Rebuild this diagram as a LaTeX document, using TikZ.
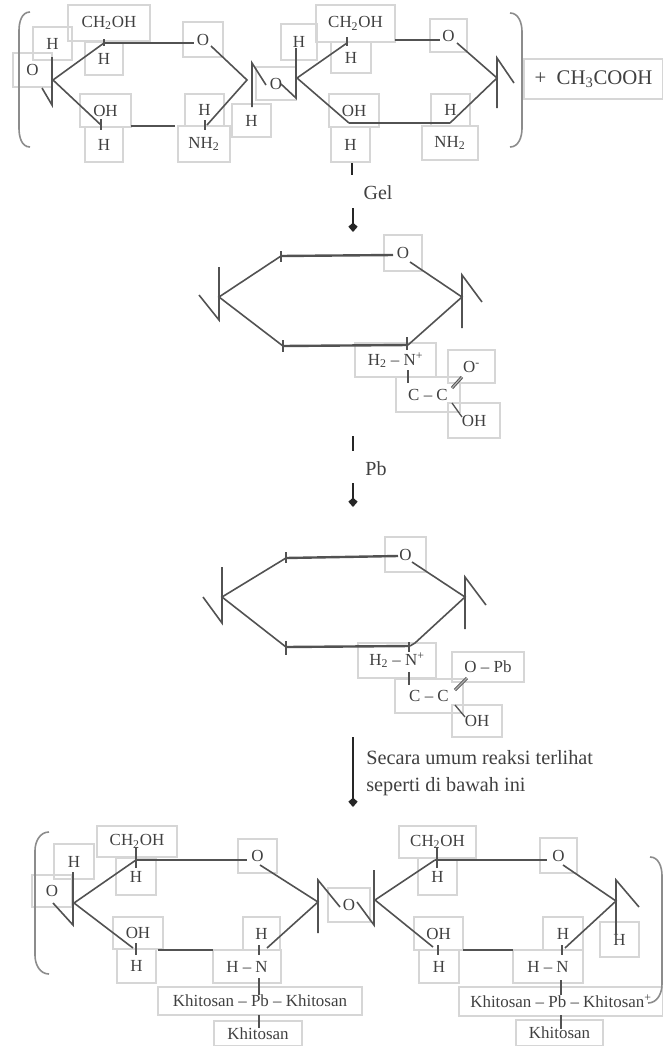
\documentclass[tikz,border=0pt]{standalone}
\usepackage{fontspec}
\setmainfont{Liberation Serif}
\usetikzlibrary{arrows.meta}
\definecolor{boxc}{gray}{0.84}
\definecolor{inkc}{gray}{0.32}
\definecolor{txtc}{gray}{0.25}
\tikzset{
  x=0.75pt,y=-0.75pt,
  boxn/.style={draw=boxc,line width=0.8pt,inner sep=0pt,text=txtc,font=\fontsize{12.7}{14}\selectfont,align=center},
  free/.style={inner sep=0pt,text=txtc,font=\fontsize{15}{20}\selectfont,align=left},
  bond/.style={draw=inkc,line width=1.2pt},
  heavy/.style={draw=inkc,line width=1.8pt},
  stub/.style={draw=inkc,line width=1pt},
  dbl/.style={draw=inkc,double=gray!60,double distance=0.9pt,line width=0.7pt},
  flow/.style={draw=black!85,line width=1.1pt},
  flowtip/.style={flow,-{Kite[length=7pt,width=7pt,inset=3pt]}},
  brk/.style={draw=gray!90,line width=1.2pt}
}
\newcommand{\bx}[6]{\node[boxn,minimum width={(#4-#2)*0.75pt},minimum height={(#5-#3)*0.75pt}] (#1) at ({(#2+#4)/2},{(#3+#5)/2}) {#6};}
\newcommand{\pts}[1]{\foreach \n/\a/\b in {#1}{\coordinate (\n) at (\a,\b);}}
\newcommand{\sm}[1]{\textsubscript{#1}}
\newcommand{\su}[1]{\textsuperscript{#1}}
\begin{document}
\begin{tikzpicture}
\useasboundingbox (0,0) rectangle (663,1046);
% ---- top molecule
\bx{ta}{68}{5}{150}{41}{CH\sm{2}OH}
\bx{tb}{33}{27}{72}{60}{H}
\bx{tc}{13}{53}{52}{87}{O}
\bx{td}{85}{42}{123}{75}{H}
\bx{te}{183}{22}{223}{57}{O}
\bx{tf}{80}{94}{131}{127}{OH}
\bx{tg}{85}{127}{123}{162}{H}
\bx{th}{185}{94}{224}{126}{H}
\bx{ti}{178}{126}{230}{162}{NH\sm{2}}
\bx{tj}{232}{104}{271}{137}{H}
\bx{tk}{256}{67}{296}{100}{O}
\bx{tl}{281}{24}{317}{60}{H}
\bx{tm}{316}{5}{395}{42}{CH\sm{2}OH}
\bx{tn}{331}{42}{371}{73}{H}
\bx{to}{430}{19}{467}{52}{O}
\bx{tp}{329}{94}{379}{127}{OH}
\bx{tq}{331}{127}{370}{162}{H}
\bx{tr}{431}{94}{470}{126}{H}
\bx{ts}{422}{126}{478}{160}{NH\sm{2}}
\node[boxn,font=\fontsize{15.6}{16}\selectfont,minimum width=139*0.75pt,minimum height=40*0.75pt] (tt) at (593.5,79) {+\ \ CH\sm{3}COOH};
\pts{a1/53/80,a2/104/43,a3/194/43,a4/211/46,a5/247/80,a6/207/125,a7/175/126,a8/131/126,a9/101/125,
 a10/52/57,a11/52/105,a12/42/88,a13/252/63,a14/252/107,a15/266/85,a16/281/84,a17/296/98,a18/296/48,
 a19/297/78,a20/347/43,a21/395/40,a22/440/40,a23/457/43,a24/497/78,a25/450/123,a26/349/123,a27/497/58,a28/497/108,a29/514/83}
\draw[bond] (a2)--(a1)--(a9);
\draw[heavy] (a2)--(a3);
\draw[bond] (a4)--(a5)--(a6);
\draw[heavy] (a7)--(a8);
\draw[bond] (a10)--(a11)--(a12);
\draw[bond] (a15)--(a13)--(a14);
\draw[bond] (a16)--(a17)--(a18);
\draw[bond] (a20)--(a19)--(a26);
\draw[heavy] (a21)--(a22);
\draw[bond] (a23)--(a24)--(a25);
\draw[heavy] (a25)--(a26);
\draw[bond] (a29)--(a27)--(a28);
\draw[stub] (a9)+(0,-6)--+(0,5);
\draw[stub] (a6)+(-2,-5)--+(-2,5);
\draw[stub] (a20)+(0,-6)--+(0,3);
\draw[stub] (a2)+(0,-4)--+(0,3);
\pts{b1/19/12,b2/30/12,b3/19/147,b4/30/147,b5/510/13,b6/522/13,b7/510/147,b8/522/147}
\draw[brk] (b2) to[out=180,in=90] ([yshift=-14pt]b1) -- ([yshift=14pt]b3) to[out=-90,in=180] (b4);
\draw[brk] (b5) to[out=0,in=90] ([yshift=-14pt]b6) -- ([yshift=14pt]b8) to[out=-90,in=0] (b7);
% ---- gel arrow
\pts{g1/352/163,g2/352/175,g3/353/208,g4/353/232}
\draw[flow] (g1)--(g2);
\draw[flowtip] (g3)--(g4);
\node[free] (gel) at (378,193) {Gel};
% ---- second ring
\bx{ma}{384}{235}{422}{271}{O}
\bx{mb}{355}{343}{436}{377}{H\sm{2} -- N\su{+}}
\bx{mc}{396}{377}{460}{412}{C -- C}
\bx{md}{448}{350}{495}{383}{O\su{-}}
\bx{me}{448}{403}{500}{438}{OH}
\pts{c1/219/297,c2/281/256,c3/393/255,c4/410/262,c5/462/297,c6/408/345,c7/283/346,
 c8/219/267,c9/219/320,c10/199/295,c11/462/275,c12/462/328,c13/482/302,
 c14/408/370,c15/408/383,c16/452/388,c17/462/377,c18/452/403,c19/462/417,
 c20/281/251,c21/281/262,c22/283/340,c23/283/352,c24/407/337,c25/407/350}
\draw[bond] (c7)--(c1)--(c2);
\draw[heavy] (c2)--(c3);
\draw[bond] (c4)--(c5)--(c6);
\draw[heavy] (c6)--(c7);
\draw[bond] (c8)--(c9)--(c10);
\draw[bond] (c13)--(c11)--(c12);
\draw[stub] (c14)--(c15);
\draw[dbl] (c16)--(c17);
\draw[stub] (c18)--(c19);
\draw[stub] (c20)--(c21);
\draw[stub] (c22)--(c23);
\draw[stub] (c24)--(c25);
% ---- Pb arrow
\pts{p1/353/436,p2/353/451,p3/353/483,p4/353/507}
\draw[flow] (p1)--(p2);
\draw[flowtip] (p3)--(p4);
\node[free] (pb) at (376,469) {Pb};
% ---- third ring
\bx{na}{385}{537}{426}{572}{O}
\bx{nb}{358}{643}{436}{678}{H\sm{2} -- N\su{+}}
\bx{nc}{395}{679}{463}{713}{C -- C}
\bx{nd}{452}{652}{524}{682}{O -- Pb}
\bx{ne}{452}{705}{502}{737}{OH}
\pts{d1/222/597,d2/286/558,d3/398/556,d4/412/562,d5/465/597,d6/415/643,d7/410/646,d8/286/647,
 d9/222/567,d10/222/623,d11/203/597,d12/465/577,d13/465/629,d14/486/605,
 d15/409/672,d16/409/685,d17/455/690,d18/467/678,d19/455/705,d20/465/717,
 d21/286/552,d22/286/563,d23/286/641,d24/286/655,d25/409/642,d26/409/652}
\draw[bond] (d8)--(d1)--(d2);
\draw[heavy] (d2)--(d3);
\draw[bond] (d4)--(d5)--(d6)--(d7);
\draw[heavy] (d7)--(d8);
\draw[bond] (d9)--(d10)--(d11);
\draw[bond] (d14)--(d12)--(d13);
\draw[stub] (d15)--(d16);
\draw[dbl] (d17)--(d18);
\draw[stub] (d19)--(d20);
\draw[stub] (d21)--(d22);
\draw[stub] (d23)--(d24);
\draw[stub] (d25)--(d26);
% ---- third arrow
\pts{q1/353/737,q2/353/807}
\draw[flowtip] (q1)--(q2);
\node[free,anchor=west,font=\fontsize{15.2}{20.2}\selectfont] (note) at (366,773) {Secara umum reaksi terlihat\\seperti di bawah ini};
% ---- bottom molecule
\bx{ba}{97}{826}{177}{857}{CH\sm{2}OH}
\bx{bb}{54}{844}{94}{879}{H}
\bx{bc}{32}{875}{72}{907}{O}
\bx{bd}{116}{858}{156}{895}{H}
\bx{be}{238}{839}{277}{873}{O}
\bx{bf}{113}{917}{163}{949}{OH}
\bx{bg}{117}{949}{156}{983}{H}
\bx{bh}{243}{917}{280}{950}{H}
\bx{bi}{213}{950}{281}{983}{H -- N}
\bx{bj}{158}{987}{362}{1015}{Khitosan -- Pb -- Khitosan}
\bx{bk}{214}{1021}{302}{1046}{Khitosan}
\bx{bl}{328}{888}{370}{922}{O}
\bx{bm}{399}{826}{476}{858}{CH\sm{2}OH}
\bx{bn}{418}{858}{457}{895}{H}
\bx{bo}{540}{838}{577}{873}{O}
\bx{bp}{414}{917}{463}{950}{OH}
\bx{bq}{419}{950}{459}{983}{H}
\bx{br}{543}{917}{583}{950}{H}
\bx{bs}{513}{950}{583}{983}{H -- N}
\bx{bt}{459}{987}{663}{1016}{Khitosan -- Pb -- Khitosan\su{+}}
\bx{bu}{516}{1020}{603}{1046}{Khitosan}
\bx{bv}{600}{922}{639}{957}{H}
\pts{e1/74/903,e2/136/860,e3/247/860,e4/260/865,e5/318/902,e6/267/948,e7/213/950,e8/158/950,e9/133/948,
 e10/73/872,e11/73/925,e12/53/903,e13/318/880,e14/318/933,e15/340/907,
 e16/357/902,e17/374/925,e18/374/870,e19/375/900,e20/435/860,e21/547/860,e22/563/865,e23/616/901,e24/565/948,
 e25/513/950,e26/463/950,e27/433/947,e28/616/880,e29/616/935,e30/639/907,
 e31/136/847,e32/136/868,e33/136/943,e34/136/955,e35/259/945,e36/259/955,e37/259/978,e38/259/995,e39/259/1015,e40/259/1028,
 e41/561/980,e42/561/995,e43/561/1015,e44/561/1029,e45/437/848,e46/437/868,e47/438/945,e48/438/955,e49/562/945,e50/562/955}
\draw[bond] (e9)--(e1)--(e2);
\draw[heavy] (e2)--(e3);
\draw[bond] (e4)--(e5)--(e6);
\draw[heavy] (e7)--(e8);
\draw[bond] (e10)--(e11)--(e12);
\draw[bond] (e15)--(e13)--(e14);
\draw[bond] (e16)--(e17)--(e18);
\draw[bond] (e20)--(e19)--(e27);
\draw[heavy] (e20)--(e21);
\draw[bond] (e22)--(e23)--(e24);
\draw[heavy] (e25)--(e26);
\draw[bond] (e30)--(e28)--(e29);
\foreach \u/\v in {e31/e32,e33/e34,e35/e36,e37/e38,e39/e40,e41/e42,e43/e44,e45/e46,e47/e48,e49/e50}{\draw[stub] (\u)--(\v);}
\pts{f1/35/832,f2/49/832,f3/35/974,f4/49/974,f5/650/857,f6/662/857,f7/662/1003,f8/648/1003}
\draw[brk] (f2) to[out=180,in=90] ([yshift=-14pt]f1) -- ([yshift=14pt]f3) to[out=-90,in=180] (f4);
\draw[brk] (f5) to[out=0,in=90] ([yshift=-14pt]f6) -- ([yshift=14pt]f7) to[out=-90,in=0] (f8);
\end{tikzpicture}
\end{document}
